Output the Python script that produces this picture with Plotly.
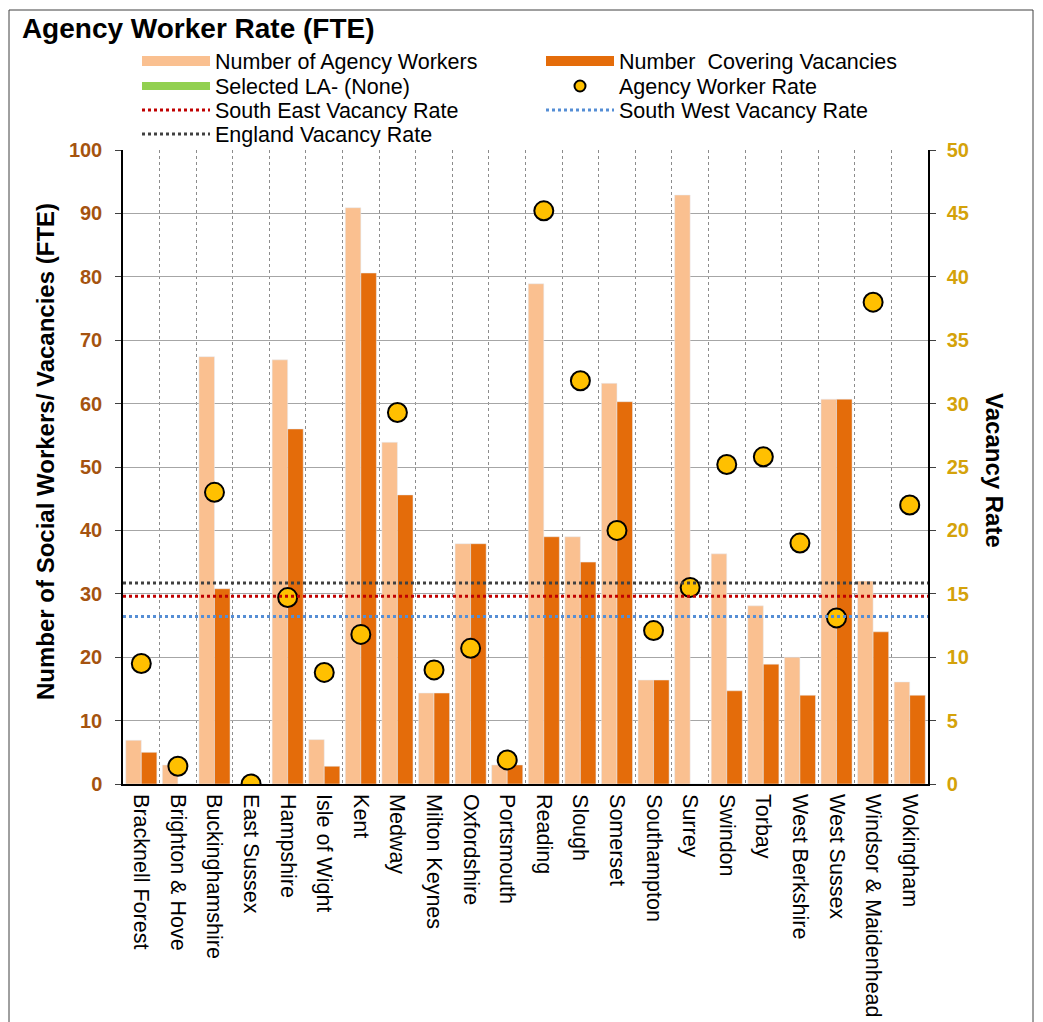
import plotly.graph_objects as go

categories = ["Bracknell Forest", "Brighton & Hove", "Buckinghamshire", "East Sussex", "Hampshire",
              "Isle of Wight", "Kent", "Medway", "Milton Keynes", "Oxfordshire", "Portsmouth",
              "Reading", "Slough", "Somerset", "Southampton", "Surrey", "Swindon", "Torbay",
              "West Berkshire", "West Sussex", "Windsor & Maidenhead", "Wokingham"]
agency_workers = [6.9, 3, 67.4, 0, 66.9, 7, 90.9, 53.9, 14.35, 37.9, 3, 78.9, 39, 63.2, 16.4, 92.9,
                  36.3, 28.1, 20, 60.7, 32, 16.1]
covering_vacancies = [5, 0, 30.8, 0, 56, 2.8, 80.6, 45.6, 14.35, 37.9, 3, 39, 35, 60.3, 16.4, 0,
                      14.7, 18.9, 14, 60.7, 24, 14]
agency_rate = [9.5, 1.4, 23.0, 0, 14.7, 8.8, 11.8, 29.3, 9.0, 10.7, 1.9, 45.2, 31.8, 20.0, 12.1,
               15.5, 25.2, 25.8, 19.0, 13.1, 38.0, 22.0]
south_east_rate = 14.8
south_west_rate = 13.2
england_rate = 15.85

LIGHT = "#FAC090"
DARK = "#E46C0A"
GOLD = "#FFC000"
FONT = "Liberation Sans, Arial, sans-serif"

fig = go.Figure()

# bars
fig.add_trace(go.Bar(x=categories, y=agency_workers, marker_color=LIGHT, showlegend=False,
                     name="Number of Agency Workers"))
fig.add_trace(go.Bar(x=categories, y=covering_vacancies, marker_color=DARK, showlegend=False,
                     name="Number  Covering Vacancies"))

# reference lines on overlay axis spanning full width
fig.add_trace(go.Scatter(x=[0, 1], y=[south_east_rate] * 2, xaxis="x2", yaxis="y2", mode="lines",
                         line=dict(color="#C00000", width=3, dash="dot"),
                         name="South East Vacancy Rate", legend="legend3", legendrank=1,
                         hoverinfo="skip"))
fig.add_trace(go.Scatter(x=[0, 1], y=[south_west_rate] * 2, xaxis="x2", yaxis="y2", mode="lines",
                         line=dict(color="#558ED5", width=3, dash="dot"),
                         name="South West Vacancy Rate", legend="legend3", legendrank=2,
                         hoverinfo="skip"))
fig.add_trace(go.Scatter(x=[0, 1], y=[england_rate] * 2, xaxis="x2", yaxis="y2", mode="lines",
                         line=dict(color="#404040", width=3, dash="dot"),
                         name="England Vacancy Rate", legend="legend4", hoverinfo="skip"))

# markers
fig.add_trace(go.Scatter(x=categories, y=agency_rate, yaxis="y2", mode="markers",
                         marker=dict(color=GOLD, size=19, line=dict(color="black", width=2)),
                         showlegend=False, name="Agency Worker Rate"))

# legend entries
fig.add_trace(go.Scatter(x=[None], y=[None], mode="lines", line=dict(color=LIGHT, width=10),
                         name="Number of Agency Workers", legend="legend", legendrank=1))
fig.add_trace(go.Scatter(x=[None], y=[None], mode="lines", line=dict(color=DARK, width=10),
                         name="Number  Covering Vacancies", legend="legend", legendrank=2))
fig.add_trace(go.Scatter(x=[None], y=[None], mode="lines", line=dict(color="#92D050", width=8),
                         name="Selected LA- (None)", legend="legend2", legendrank=1))
fig.add_trace(go.Scatter(x=[None], y=[None], yaxis="y2", mode="markers",
                         marker=dict(color=GOLD, size=11, line=dict(color="black", width=2)),
                         name="Agency Worker Rate", legend="legend2", legendrank=2))


def legend_row(row_center_px):
    return dict(orientation="h", x=0.0174, xanchor="left",
                y=(784 - row_center_px) / 634, yanchor="middle",
                font=dict(size=21.5, family=FONT, color="black"), itemwidth=68, entrywidth=321,
                bgcolor="rgba(0,0,0,0)")


fig.update_layout(
    width=1043, height=1022,
    margin=dict(l=123, r=115, t=150, b=238, autoexpand=False),
    paper_bgcolor="white", plot_bgcolor="white",
    font=dict(family=FONT, color="black"),
    barmode="group", bargap=0.15, bargroupgap=0,
    title=dict(text="<b>Agency Worker Rate (FTE)</b>", x=0.021, xanchor="left", xref="container",
               y=1 - 28 / 1022, yanchor="middle", yref="container",
               font=dict(size=28, family=FONT, color="black")),
    legend=legend_row(61),
    legend2=legend_row(86),
    legend3=legend_row(110),
    legend4=legend_row(134),
    xaxis=dict(type="category", categoryorder="array", categoryarray=categories,
               range=[-0.5, len(categories) - 0.5], automargin=False,
               tickangle=90, tickson="boundaries", ticks="", showgrid=True,
               gridcolor="#8C8C8C", griddash="dot", gridwidth=1, ticklabelstandoff=4,
               showline=True, linecolor="black", linewidth=1.5,
               tickfont=dict(size=21.5, family=FONT, color="black")),
    xaxis2=dict(overlaying="x", range=[0, 1], visible=False, fixedrange=True),
    yaxis=dict(range=[0, 100], dtick=10, showgrid=True, gridcolor="#A6A6A6", gridwidth=1,
               showline=True, linecolor="black", linewidth=1.5, ticks="outside", ticklen=6,
               tickcolor="#404040", zeroline=False, ticklabelstandoff=9, automargin=False,
               tickfont=dict(size=20, family=FONT, color="#A5530F", weight="bold")),
    yaxis2=dict(range=[0, 50], dtick=5, overlaying="y", side="right", anchor="x", showgrid=False,
                showline=True, linecolor="black", linewidth=1.5, ticks="outside", ticklen=6,
                tickcolor="#404040", zeroline=False, ticklabelstandoff=7, automargin=False,
                tickfont=dict(size=20, family=FONT, color="#D4A20A", weight="bold")),
    annotations=[
        dict(text="<b>Number of Social Workers/ Vacancies (FTE)</b>", xref="paper", yref="paper",
             x=(45 - 123) / 805, y=(784 - 452) / 634, xanchor="center", yanchor="middle",
             textangle=-90, showarrow=False,
             font=dict(size=24, family=FONT, color="black")),
        dict(text="<b>Vacancy Rate</b>", xref="paper", yref="paper",
             x=(995 - 123) / 805, y=(784 - 470) / 634, xanchor="center", yanchor="middle",
             textangle=90, showarrow=False,
             font=dict(size=24, family=FONT, color="black")),
    ],
    shapes=[dict(type="rect", xref="paper", yref="paper", x0=(9 - 123) / 805, x1=(1033 - 123) / 805,
                 y0=-0.45, y1=(784 - 10) / 634, line=dict(color="#404040", width=1),
                 fillcolor="rgba(0,0,0,0)", layer="below")],
)

fig.write_html("out.html", config={"displayModeBar": False},
               post_script="document.body.style.margin='0';")
